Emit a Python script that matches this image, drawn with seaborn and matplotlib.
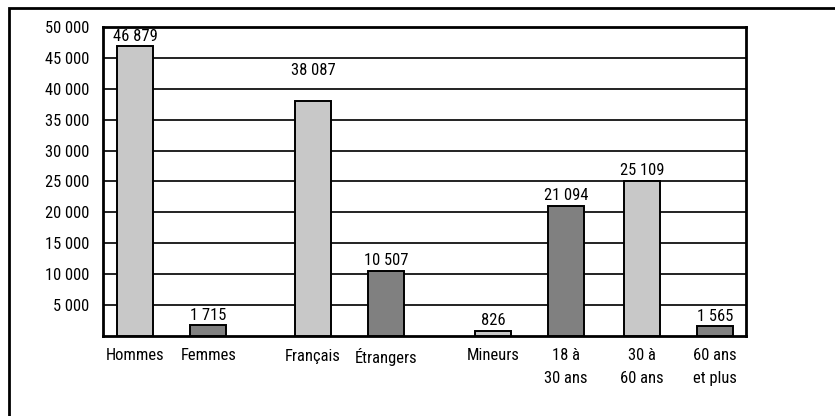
import matplotlib
matplotlib.use("Agg")
import matplotlib.pyplot as plt
from matplotlib import font_manager
from matplotlib.ticker import FuncFormatter
from matplotlib.patches import Rectangle
import seaborn as sns
import pandas as pd

# ---- data ----
categories = ["Hommes", "Femmes", "Français", "Étrangers", "Mineurs",
              "18 à\n30 ans", "30 à\n60 ans", "60 ans\net plus"]
values = [46879, 1715, 38087, 10507, 826, 21094, 25109, 1565]
tones = ["clair", "foncé", "clair", "foncé", "clair", "foncé", "clair", "foncé"]
yticks = [5000, 10000, 15000, 20000, 25000, 30000, 35000, 40000, 45000, 50000]

# ---- layout (slot positions along the axis, label offsets) ----
slots = [0, 1, 2.43, 3.43, 4.9, 5.9, 6.94, 7.94]
extra_pad = {2: 14}

sns.set_theme(style="white")
names = {f.name for f in font_manager.fontManager.ttflist}
fam, fs, lsp = ["Liberation Sans", "DejaVu Sans"], 11, 1.72
for cand in ["Liberation Sans Narrow", "Arial Narrow", "Nimbus Sans Narrow",
             "Roboto Condensed"]:
    if cand in names:
        fam, fs, lsp = [cand, "DejaVu Sans"], 11.9, 1.6
        break
plt.rcParams["font.family"] = fam

df = pd.DataFrame({"x": slots, "v": values, "tone": tones})

fig = plt.figure(figsize=(8.35, 4.16), dpi=100)
ax = fig.add_axes([103 / 835, 80 / 416, 643 / 835, 309 / 416])

sns.barplot(data=df, x="x", y="v", hue="tone", native_scale=True,
            palette={"clair": "#C8C8C8", "foncé": "#808080"},
            width=0.493, edgecolor="black", linewidth=1.4,
            legend=False, ax=ax, zorder=3)

ax.set_xlim(-0.445, 8.363)
ax.set_ylim(0, 50000)
ax.set_yticks(yticks)
ax.yaxis.set_major_formatter(FuncFormatter(lambda v, p: f"{int(v):,}".replace(",", " ")))
ax.set_xticks(slots)
ax.set_xticklabels(categories, linespacing=lsp)
ax.tick_params(axis="both", length=0, labelsize=fs, colors="black")
ax.tick_params(axis="y", pad=10)
ax.tick_params(axis="x", pad=9)
ax.set_xlabel("")
ax.set_ylabel("")
ax.yaxis.grid(True, color="#111111", linewidth=1.3, zorder=1)
ax.set_axisbelow(True)
for s in ax.spines.values():
    s.set_visible(True)
    s.set_color("black")
    s.set_linewidth(2)

# value labels
for cont in ax.containers:
    for bar in cont:
        cx = bar.get_x() + bar.get_width() / 2
        i = min(range(len(slots)), key=lambda k: abs(slots[k] - cx))
        ax.annotate(f"{values[i]:,}".replace(",", " "),
                    xy=(cx, bar.get_height()), xytext=(0, 2 + extra_pad.get(i, 0)),
                    textcoords="offset points", ha="center", va="bottom",
                    fontsize=fs, color="black")

# outer frame (top and left edges visible)
fig.patches.append(Rectangle((9 / 835, -0.1), 1.2, (408 / 416) + 0.1,
                             transform=fig.transFigure, fill=False,
                             edgecolor="black", linewidth=2))

fig.savefig("out.png", dpi=100)
